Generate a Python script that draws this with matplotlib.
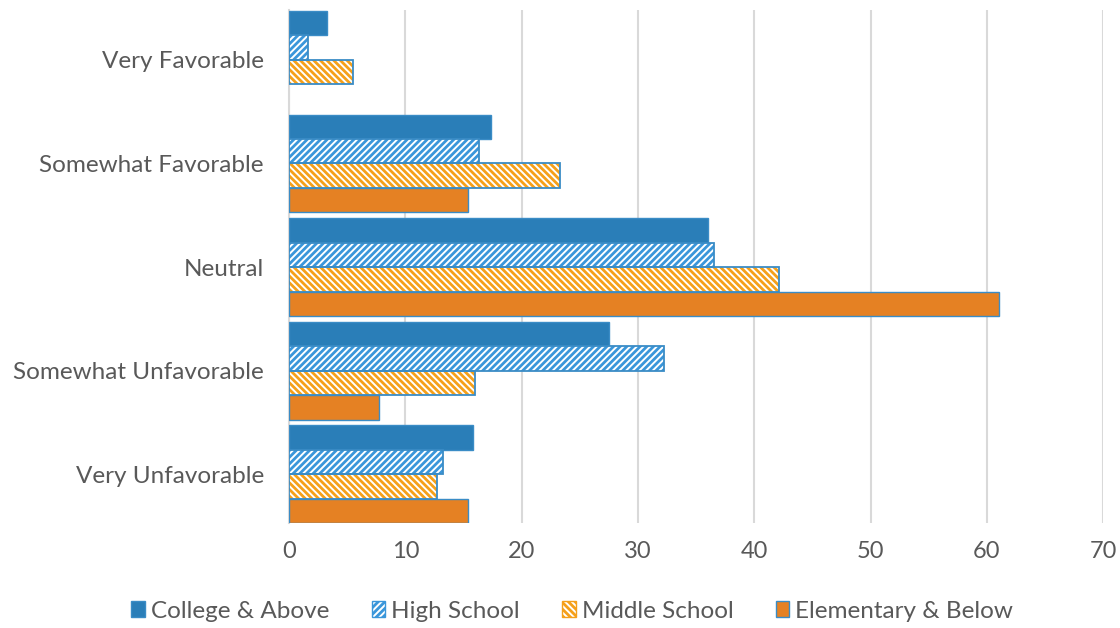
import matplotlib
matplotlib.use("Agg")
import matplotlib.pyplot as plt
import numpy as np
from matplotlib.patches import Patch

plt.rcParams["font.family"] = ["Lato", "DejaVu Sans"]
plt.rcParams["hatch.linewidth"] = 2.0

CATEGORIES = ["Very Favorable", "Somewhat Favorable", "Neutral",
              "Somewhat Unfavorable", "Very Unfavorable"]
SERIES = ["College & Above", "High School", "Middle School", "Elementary & Below"]
COLLEGE = [3.3, 17.4, 36.0, 27.5, 15.8]
HIGH_SCHOOL = [1.6, 16.3, 36.5, 32.2, 13.2]
MIDDLE_SCHOOL = [5.5, 23.3, 42.1, 16.0, 12.7]
ELEMENTARY = [0.0, 15.4, 61.0, 7.7, 15.4]
XTICKS = [0, 10, 20, 30, 40, 50, 60, 70]

BLUE = "#2A7EB8"
BLUE_EDGE = "#3A8CC6"
HATCH_BLUE = "#3A96DA"
ORANGE = "#E58123"
HATCH_ORANGE = "#F5A01A"
TEXT = "#595959"

fig = plt.figure(figsize=(11.2, 6.28), dpi=100)
ax = fig.add_axes([0.258, 0.167, 0.727, 0.817])

y = np.arange(len(CATEGORIES))
h = 0.236
offsets = [-1.5 * h, -0.5 * h, 0.5 * h, 1.5 * h]

# solid college bars
ax.barh(y + offsets[0], COLLEGE, height=h, color=BLUE, edgecolor=BLUE_EDGE,
        linewidth=1.0, zorder=3)
# hatched high school: blue hatch on white
ax.barh(y + offsets[1], HIGH_SCHOOL, height=h, facecolor="white",
        edgecolor=HATCH_BLUE, hatch="/////", linewidth=0, zorder=3)
ax.barh(y + offsets[1], HIGH_SCHOOL, height=h, fill=False,
        edgecolor=BLUE_EDGE, linewidth=1.3, zorder=4)
# hatched middle school: orange hatch, blue outline
ax.barh(y + offsets[2], MIDDLE_SCHOOL, height=h, facecolor="white",
        edgecolor=HATCH_ORANGE, hatch="\\\\\\\\\\", linewidth=0, zorder=3)
ax.barh(y + offsets[2], MIDDLE_SCHOOL, height=h, fill=False,
        edgecolor=BLUE_EDGE, linewidth=1.3, zorder=4)
# solid elementary bars
elem = np.array(ELEMENTARY)
mask = elem > 0
ax.barh((y + offsets[3])[mask], elem[mask], height=h, color=ORANGE,
        edgecolor=BLUE_EDGE, linewidth=1.0, zorder=3)

ax.set_ylim(4.47, -0.48)
ax.set_xlim(0, 70)
ax.set_yticks(y)
ax.set_yticklabels(CATEGORIES, fontsize=17.5, color=TEXT)
ax.set_xticks(XTICKS)
ax.set_xticklabels([str(t) for t in XTICKS], fontsize=17, color=TEXT)
ax.tick_params(axis="y", length=0, pad=18)
ax.tick_params(axis="x", length=0, pad=13)
ax.grid(axis="x", color="#D9D9D9", linewidth=1.5, zorder=0)
for s in ["top", "right", "bottom"]:
    ax.spines[s].set_visible(False)
ax.spines["left"].set_color("#D9D9D9")
ax.spines["left"].set_linewidth(1.5)

handles = [
    Patch(facecolor=BLUE, edgecolor=BLUE_EDGE, label=SERIES[0]),
    Patch(facecolor="white", edgecolor=HATCH_BLUE, hatch="/////", label=SERIES[1]),
    Patch(facecolor="white", edgecolor=HATCH_ORANGE, hatch="\\\\\\\\\\", label=SERIES[2]),
    Patch(facecolor=ORANGE, edgecolor=BLUE_EDGE, label=SERIES[3]),
]
leg = fig.legend(handles=handles, loc="center", bbox_to_anchor=(0.511, 0.027),
                 ncol=4, frameon=False, fontsize=17.5, handlelength=0.55,
                 handleheight=0.65, handletextpad=0.25, columnspacing=1.75)
for t in leg.get_texts():
    t.set_color(TEXT)

fig.savefig("out.png", dpi=100, facecolor="white")
